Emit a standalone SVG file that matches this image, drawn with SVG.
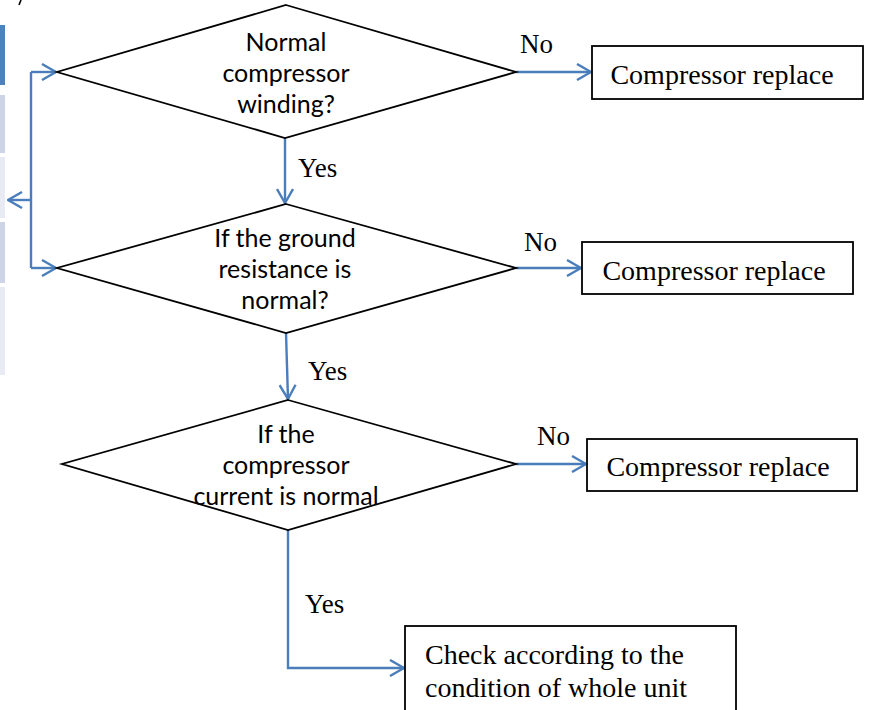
<svg xmlns="http://www.w3.org/2000/svg" width="876" height="710" viewBox="0 0 876 710">
  <defs>
    <style>
      .shape { fill: #ffffff; stroke: #000000; stroke-width: 1.8; }
      .box { fill: #ffffff; stroke: #000000; stroke-width: 1.8; }
      .link { fill: none; stroke: #4a7ebb; stroke-width: 2.4; }
      .qtext { font-family: "Lato", "Open Sans", sans-serif; font-size: 25px; fill: #000; text-anchor: middle; }
      .btext { font-family: "Liberation Serif", "Times New Roman", serif; font-size: 28px; fill: #000; }
      .lbl { font-family: "Liberation Serif", "Times New Roman", serif; font-size: 27px; fill: #000; }
    </style>
    <marker id="arrow" viewBox="0 0 16 18" refX="15" refY="9" markerWidth="16" markerHeight="18" markerUnits="userSpaceOnUse" orient="auto">
      <path d="M1,1 L15,9 L1,17" fill="none" stroke="#4a7ebb" stroke-width="2.4"/>
    </marker>
  </defs>

  <!-- side tab strip at left edge -->
  <g id="side-strip">
    <rect x="0" y="25" width="5" height="60" fill="#4f81bd"/>
    <rect x="0" y="95" width="5" height="58" fill="#cdd4e5"/>
    <rect x="0" y="157" width="5" height="61" fill="#e8ebf4"/>
    <rect x="0" y="222" width="5" height="61" fill="#cdd4e5"/>
    <rect x="0" y="287" width="5" height="88" fill="#e8ebf4"/>
    <path d="M21,0 L19,5" stroke="#000" stroke-width="1.6"/>
  </g>

  <!-- connectors -->
  <g id="connectors">
    <path class="link" d="M516,72 L591,72" marker-end="url(#arrow)"/>
    <path class="link" d="M285,138 L285,203" marker-end="url(#arrow)"/>
    <path class="link" d="M516,268 L581,268" marker-end="url(#arrow)"/>
    <path class="link" d="M286,333 L288,399" marker-end="url(#arrow)"/>
    <path class="link" d="M516,464 L586,464" marker-end="url(#arrow)"/>
    <path class="link" d="M288,530 L288,668 L404,668" marker-end="url(#arrow)"/>
    <path class="link" d="M31,72 L31,268"/>
    <path class="link" d="M31,72 L56,72" marker-end="url(#arrow)"/>
    <path class="link" d="M31,268 L56,268" marker-end="url(#arrow)"/>
    <path class="link" d="M31,200 L8,200" marker-end="url(#arrow)"/>
    <text class="lbl" x="520" y="53">No</text>
    <text class="lbl" x="298" y="177">Yes</text>
    <text class="lbl" x="524" y="251">No</text>
    <text class="lbl" x="308" y="380">Yes</text>
    <text class="lbl" x="537" y="445">No</text>
    <text class="lbl" x="305" y="613">Yes</text>
  </g>

  <!-- decision 1 -->
  <g id="q-winding">
    <polygon class="shape" points="286,5 516,72 285,138 57,72"/>
    <text class="qtext" x="286" y="51">Normal</text>
    <text class="qtext" x="286" y="82">compressor</text>
    <text class="qtext" x="286" y="113">winding?</text>
  </g>

  <!-- decision 2 -->
  <g id="q-ground">
    <polygon class="shape" points="286,204 516,268 286,333 57,268"/>
    <text class="qtext" x="285" y="247">If the ground</text>
    <text class="qtext" x="285" y="278">resistance is</text>
    <text class="qtext" x="285" y="309">normal?</text>
  </g>

  <!-- decision 3 -->
  <g id="q-current">
    <polygon class="shape" points="288,400 516,464 288,530 62,464"/>
    <text class="qtext" x="286" y="443">If the</text>
    <text class="qtext" x="286" y="474">compressor</text>
    <text class="qtext" x="286" y="505">current is normal</text>
  </g>

  <!-- outcome boxes -->
  <g id="replace-1">
    <rect class="box" x="592" y="46" width="271" height="53"/>
    <text class="btext" x="722" y="84" text-anchor="middle">Compressor replace</text>
  </g>
  <g id="replace-2">
    <rect class="box" x="582" y="242" width="271" height="52"/>
    <text class="btext" x="714" y="280" text-anchor="middle">Compressor replace</text>
  </g>
  <g id="replace-3">
    <rect class="box" x="587" y="439" width="270" height="52"/>
    <text class="btext" x="718" y="476" text-anchor="middle">Compressor replace</text>
  </g>
  <g id="check-unit">
    <rect class="box" x="405" y="626" width="331" height="100"/>
    <text class="btext" x="425" y="664">Check according to the</text>
    <text class="btext" x="425" y="697">condition of whole unit</text>
  </g>
</svg>
